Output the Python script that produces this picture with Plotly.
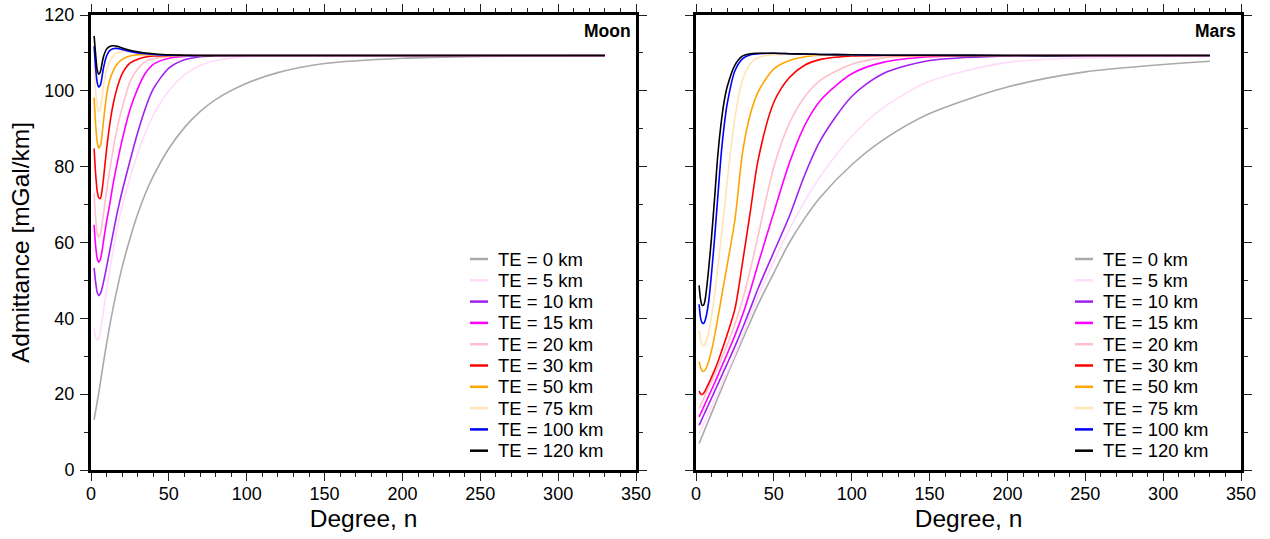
import plotly.graph_objects as go

# Spherical-harmonic degrees at which the admittance curves are sampled
moon_deg = [2, 3, 4, 5, 6, 7, 8, 10, 12, 14, 16, 18, 20, 25, 30, 35, 40, 50, 60, 70, 80, 100, 120, 150, 200, 250, 330]
mars_deg = [2, 3, 4, 5, 6, 8, 10, 12, 14, 16, 18, 20, 25, 30, 35, 40, 50, 60, 70, 80, 100, 120, 150, 200, 250, 330]

# Moon admittance [mGal/km] for each elastic thickness
moon_te0 = [13.2, 15.6, 18.0, 20.4, 23.0, 25.7, 28.3, 33.3, 38.0, 42.3, 46.3, 50.0, 53.5, 61.0, 67.5, 73.0, 77.5, 84.8, 90.3, 94.5, 97.7, 102.0, 104.8, 107.2, 108.6, 109.1, 109.3]
moon_te5 = [37.3, 35.0, 34.3, 34.8, 36.5, 39.0, 41.8, 47.5, 52.8, 57.5, 62.0, 66.0, 69.5, 77.0, 83.5, 89.0, 93.5, 100.0, 104.2, 106.7, 108.0, 109.0, 109.2, 109.3, 109.3, 109.3, 109.3]
moon_te10 = [53.3, 49.5, 46.8, 46.0, 46.5, 47.8, 49.5, 53.5, 57.8, 62.0, 66.2, 70.0, 73.5, 81.5, 89.0, 95.5, 100.5, 106.0, 108.2, 109.0, 109.2, 109.3, 109.3, 109.3, 109.3, 109.3, 109.3]
moon_te15 = [64.7, 59.0, 55.8, 54.8, 55.5, 57.5, 60.3, 65.5, 70.0, 75.0, 79.3, 83.3, 87.0, 95.0, 100.6, 104.7, 107.0, 108.6, 109.1, 109.3, 109.3, 109.3, 109.3, 109.3, 109.3, 109.3, 109.3]
moon_te20 = [73.0, 66.5, 62.5, 61.4, 62.2, 64.5, 67.5, 73.5, 79.0, 84.0, 88.5, 92.3, 95.5, 102.3, 105.8, 107.7, 108.5, 109.1, 109.3, 109.3, 109.3, 109.3, 109.3, 109.3, 109.3, 109.3, 109.3]
moon_te30 = [84.8, 78.0, 73.5, 71.8, 71.6, 73.5, 76.8, 84.5, 91.0, 96.0, 99.6, 102.4, 104.5, 107.3, 108.3, 108.9, 109.2, 109.3, 109.3, 109.3, 109.3, 109.3, 109.3, 109.3, 109.3, 109.3, 109.3]
moon_te50 = [98.2, 91.0, 86.5, 84.9, 85.5, 88.0, 92.0, 98.8, 102.8, 105.0, 106.6, 107.6, 108.3, 109.2, 109.5, 109.5, 109.4, 109.3, 109.3, 109.3, 109.3, 109.3, 109.3, 109.3, 109.3, 109.3, 109.3]
moon_te75 = [107.0, 100.0, 96.0, 94.6, 95.5, 98.0, 101.3, 105.5, 107.8, 109.0, 109.8, 110.2, 110.4, 110.3, 110.0, 109.8, 109.6, 109.4, 109.3, 109.3, 109.3, 109.3, 109.3, 109.3, 109.3, 109.3, 109.3]
moon_te100 = [111.8, 106.0, 102.2, 101.0, 101.5, 103.5, 106.0, 109.2, 110.6, 111.1, 111.2, 111.1, 110.9, 110.4, 110.0, 109.8, 109.6, 109.4, 109.3, 109.3, 109.3, 109.3, 109.3, 109.3, 109.3, 109.3, 109.3]
moon_te120 = [114.5, 109.5, 105.5, 104.4, 105.0, 107.0, 109.0, 111.0, 111.7, 111.9, 111.8, 111.6, 111.3, 110.7, 110.3, 110.0, 109.8, 109.5, 109.4, 109.3, 109.3, 109.3, 109.3, 109.3, 109.3, 109.3, 109.3]

# Mars admittance [mGal/km] for each elastic thickness
mars_te0 = [7.0, 8.0, 9.0, 10.0, 11.0, 13.0, 15.0, 17.0, 19.0, 21.0, 23.0, 25.0, 29.8, 34.5, 39.2, 43.8, 52.0, 60.0, 66.5, 72.0, 80.5, 87.0, 94.0, 101.0, 105.0, 107.8]
mars_te5 = [9.5, 10.4, 11.3, 12.2, 13.1, 14.9, 16.7, 18.5, 20.3, 22.1, 24.0, 25.8, 30.5, 35.5, 40.8, 46.0, 55.0, 63.5, 71.0, 77.5, 88.0, 95.5, 102.5, 107.5, 108.7, 109.2]
mars_te10 = [11.8, 12.7, 13.6, 14.5, 15.4, 17.2, 19.0, 20.8, 22.6, 24.4, 26.2, 28.0, 32.6, 37.5, 42.7, 48.0, 57.5, 67.0, 78.0, 87.0, 98.5, 104.5, 108.0, 109.2, 109.3, 109.3]
mars_te15 = [14.0, 14.9, 15.8, 16.7, 17.6, 19.4, 21.2, 23.0, 24.9, 26.8, 28.7, 30.6, 35.5, 41.0, 47.5, 54.5, 68.0, 81.0, 91.0, 97.5, 104.5, 107.5, 109.0, 109.3, 109.3, 109.3]
mars_te20 = [16.2, 17.1, 18.0, 18.9, 19.8, 21.6, 23.4, 25.2, 27.0, 29.0, 31.0, 33.0, 38.5, 45.0, 53.0, 62.0, 80.0, 91.5, 98.5, 102.8, 107.0, 108.7, 109.3, 109.3, 109.3, 109.3]
mars_te30 = [20.8, 20.1, 19.9, 20.3, 21.0, 22.7, 24.5, 26.4, 28.5, 30.8, 33.2, 35.7, 42.5, 55.0, 68.5, 82.0, 97.0, 103.5, 106.8, 108.3, 109.2, 109.3, 109.3, 109.3, 109.3, 109.3]
mars_te50 = [28.6, 27.0, 26.2, 26.0, 26.4, 28.5, 31.5, 35.5, 40.0, 44.7, 49.4, 54.0, 66.0, 84.0, 94.0, 99.8, 105.8, 108.0, 109.0, 109.4, 109.4, 109.4, 109.3, 109.3, 109.3, 109.3]
mars_te75 = [36.8, 34.2, 33.0, 32.8, 33.5, 36.0, 40.5, 46.5, 53.5, 60.5, 68.0, 76.0, 93.0, 103.0, 107.2, 108.8, 109.5, 109.6, 109.6, 109.5, 109.5, 109.4, 109.4, 109.3, 109.3, 109.3]
mars_te100 = [43.7, 40.0, 38.8, 38.7, 39.6, 44.0, 52.0, 61.5, 72.0, 82.5, 90.5, 96.5, 105.3, 108.5, 109.5, 109.8, 109.9, 109.8, 109.7, 109.6, 109.5, 109.4, 109.4, 109.3, 109.3, 109.3]
mars_te120 = [48.7, 44.8, 43.4, 43.6, 45.3, 52.5, 61.5, 72.0, 83.0, 91.0, 97.0, 101.0, 106.8, 109.2, 109.8, 109.9, 109.9, 109.8, 109.7, 109.6, 109.5, 109.4, 109.4, 109.3, 109.3, 109.3]

te_labels = ["TE = 0 km", "TE = 5 km", "TE = 10 km", "TE = 15 km", "TE = 20 km",
             "TE = 30 km", "TE = 50 km", "TE = 75 km", "TE = 100 km", "TE = 120 km"]
te_colors = ["#aaaaaa", "#ffdcfa", "#a020f0", "#ff00ff", "#ffc0cb",
             "#ff0000", "#ffa500", "#ffe4b5", "#0000ff", "#000000"]

moon_series = [moon_te0, moon_te5, moon_te10, moon_te15, moon_te20,
               moon_te30, moon_te50, moon_te75, moon_te100, moon_te120]
mars_series = [mars_te0, mars_te5, mars_te10, mars_te15, mars_te20,
               mars_te30, mars_te50, mars_te75, mars_te100, mars_te120]

W, H = 1270, 539
FONT = "Liberation Sans, Arial, Helvetica, sans-serif"

# plotting region in pixels: both panels share one vertical band
ML, MR, MT, MB = 91, 1241, 15, 470
IW, IH = MR - ML, MB - MT
panels = [(91, 636), (696, 1241)]

def px(x):
    return (x - ML) / IW

def py(y):
    return (MB - y) / IH

fig = go.Figure()
for vals, lab, col in zip(moon_series, te_labels, te_colors):
    fig.add_trace(go.Scatter(x=moon_deg, y=vals, mode="lines", name=lab,
                             line=dict(color=col, width=1.6, shape="spline", smoothing=0.8),
                             xaxis="x", yaxis="y", showlegend=False))
for vals, lab, col in zip(mars_series, te_labels, te_colors):
    fig.add_trace(go.Scatter(x=mars_deg, y=vals, mode="lines", name=lab,
                             line=dict(color=col, width=1.6, shape="spline", smoothing=0.8),
                             xaxis="x2", yaxis="y2", showlegend=False))

def xax(dom, title):
    return dict(domain=[px(dom[0]), px(dom[1])], range=[0, 350], dtick=50, tick0=0,
                automargin=False, ticks="outside", ticklen=8, tickwidth=1, tickcolor="#222",
                minor=dict(dtick=10, ticks="outside", ticklen=4, tickwidth=1, tickcolor="#222"),
                showline=True, linewidth=3, linecolor="black", mirror="allticks",
                showgrid=False, zeroline=False, ticklabelstandoff=-3,
                tickfont=dict(family=FONT, size=18, color="black"),
                title=dict(text=title, font=dict(family=FONT, size=24.5, color="black"), standoff=8))

def yax(anchor, labels, title):
    d = dict(domain=[0, 1], range=[0, 120], dtick=20, tick0=0, anchor=anchor,
             automargin=False, ticks="outside", ticklen=8, tickwidth=1, tickcolor="#222",
             minor=dict(dtick=10, ticks="outside", ticklen=4, tickwidth=1, tickcolor="#222"),
             showline=True, linewidth=3, linecolor="black", mirror="allticks",
             showgrid=False, zeroline=False, showticklabels=labels, ticklabelstandoff=2,
             tickfont=dict(family=FONT, size=18, color="black"))
    if title:
        d["title"] = dict(text=title, font=dict(family=FONT, size=24.5, color="black"), standoff=8)
    return d

fig.update_layout(
    width=W, height=H,
    margin=dict(l=ML, r=W - MR, t=MT, b=H - MB, autoexpand=False),
    paper_bgcolor="white", plot_bgcolor="white", showlegend=False,
    xaxis=dict(xax(panels[0], "Degree, n"), anchor="y"),
    yaxis=yax("x", True, "Admittance [mGal/km]"),
    xaxis2=dict(xax(panels[1], "Degree, n"), anchor="y2"),
    yaxis2=yax("x2", False, None),
)

# hand-placed legend block inside each panel
shapes, annots = [], []
leg_top, leg_step = 259, 21.3
for k, (left, name) in enumerate(zip([470, 1075], ["Moon", "Mars"])):
    for i, (lab, col) in enumerate(zip(te_labels, te_colors)):
        yy = py(leg_top + i * leg_step)
        shapes.append(dict(type="line", xref="paper", yref="paper",
                           x0=px(left), x1=px(left + 18), y0=yy, y1=yy,
                           line=dict(color=col, width=2.5)))
        annots.append(dict(text=lab, xref="paper", yref="paper", x=px(left + 26), y=yy,
                           xanchor="left", yanchor="middle", showarrow=False,
                           font=dict(family=FONT, size=18.5, color="black")))
    annots.append(dict(text="<b>%s</b>" % name, xref="paper", yref="paper",
                       x=px(panels[k][1] - 3), y=py(31.5), xanchor="right", yanchor="middle",
                       showarrow=False, font=dict(family=FONT, size=17.5, color="black")))

fig.update_layout(shapes=shapes, annotations=annots)
fig.write_html("out.html")
